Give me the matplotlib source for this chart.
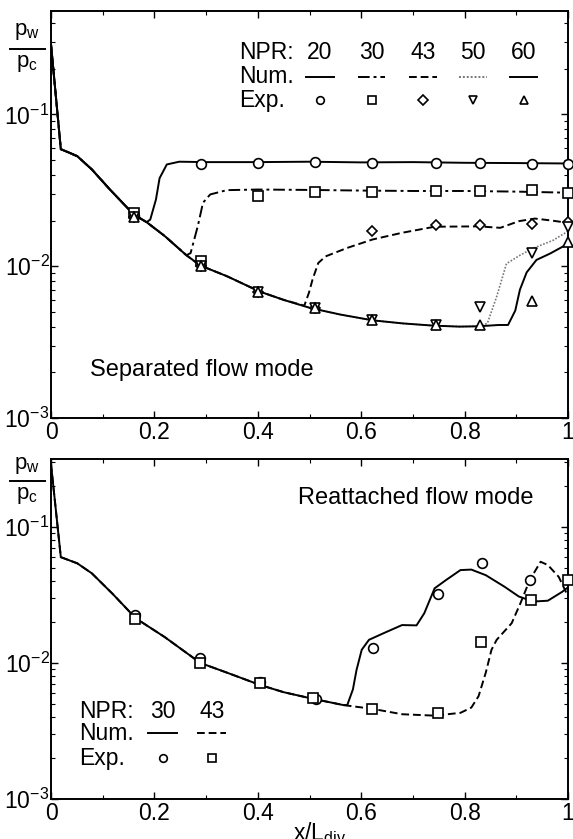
import matplotlib
matplotlib.use("Agg")
import matplotlib.pyplot as plt
from matplotlib.lines import Line2D
from matplotlib.ticker import LogLocator, FixedLocator, NullFormatter, MultipleLocator

plt.rcParams['font.family'] = ['Liberation Sans', 'DejaVu Sans']
plt.rcParams['mathtext.fontset'] = 'custom'
plt.rcParams['mathtext.rm'] = 'Liberation Sans'
plt.rcParams['mathtext.it'] = 'Liberation Sans'
plt.rcParams['mathtext.bf'] = 'Liberation Sans'

# ---- top panel: separated flow mode ----
base_x = [0.0, 0.019, 0.035, 0.051, 0.079, 0.114, 0.16, 0.185, 0.22, 0.262, 0.289,
          0.34, 0.404, 0.45, 0.502, 0.56, 0.622, 0.68, 0.739, 0.79, 0.827, 0.866, 0.884]
base_y = [0.29, 0.059, 0.056, 0.053, 0.0434, 0.032, 0.0219, 0.0195, 0.0158, 0.0118, 0.0101,
          0.0086, 0.0068, 0.006, 0.0053, 0.0048, 0.0044, 0.0042, 0.00406, 0.0040, 0.00402, 0.0041, 0.0041]

npr20_x = [0.192, 0.203, 0.21, 0.224, 0.248, 0.3, 0.4, 0.5, 0.6, 0.7, 0.8, 0.9, 1.0]
npr20_y = [0.0203, 0.0275, 0.038, 0.0468, 0.0488, 0.0485, 0.0485, 0.0488, 0.0483, 0.0485, 0.048, 0.0478, 0.0475]
npr30_x = [0.27, 0.284, 0.294, 0.308, 0.34, 0.4, 0.5, 0.6, 0.7, 0.8, 0.9, 1.0]
npr30_y = [0.0122, 0.0184, 0.0262, 0.0297, 0.0317, 0.032, 0.0318, 0.0315, 0.0313, 0.0313, 0.031, 0.0305]
npr43_x = [0.49, 0.499, 0.506, 0.517, 0.531, 0.573, 0.622, 0.679, 0.742, 0.827, 0.869, 0.905, 0.936, 0.968, 1.0]
npr43_y = [0.0055, 0.0067, 0.0082, 0.0105, 0.0116, 0.0132, 0.015, 0.0166, 0.0182, 0.0183, 0.0179, 0.0198, 0.0206, 0.02, 0.0193]
npr50_x = [0.844, 0.862, 0.881, 0.907, 0.932, 0.971, 1.0]
npr50_y = [0.0042, 0.0063, 0.0104, 0.0118, 0.0131, 0.0148, 0.017]
npr60_x = [0.898, 0.907, 0.92, 0.939, 0.965, 0.994, 1.0]
npr60_y = [0.0051, 0.0070, 0.0091, 0.011, 0.0121, 0.0137, 0.014]

exp_x = [0.16, 0.29, 0.40, 0.51, 0.62, 0.745, 0.83, 0.93, 1.0]
exp20 = [0.0215, 0.0468, 0.048, 0.0485, 0.048, 0.048, 0.0475, 0.0468, 0.0468]
exp30 = [0.0225, 0.0108, 0.029, 0.031, 0.031, 0.0313, 0.0313, 0.0317, 0.0305]
exp43 = [0.021, 0.0100, 0.0068, 0.0053, 0.017, 0.0186, 0.0188, 0.019, 0.0195]
exp50 = [0.021, 0.0100, 0.0068, 0.0053, 0.0044, 0.0041, 0.0054, 0.0122, 0.018]
exp60 = [0.021, 0.0100, 0.0068, 0.0053, 0.0044, 0.0041, 0.0041, 0.0059, 0.0145]

# ---- bottom panel: reattached flow mode ----
base2_x = [0.0, 0.019, 0.051, 0.079, 0.12, 0.164, 0.22, 0.289, 0.34, 0.404, 0.45, 0.502, 0.566]
base2_y = [0.29, 0.060, 0.054, 0.0456, 0.032, 0.0213, 0.0155, 0.0100, 0.0085, 0.0069, 0.0061, 0.0055, 0.0049]
re30_x = [0.573, 0.584, 0.591, 0.601, 0.615, 0.644, 0.679, 0.707, 0.722, 0.742, 0.764, 0.792,
          0.813, 0.841, 0.877, 0.905, 0.933, 0.961, 0.989, 1.0]
re30_y = [0.0049, 0.0064, 0.0089, 0.0125, 0.0148, 0.0166, 0.019, 0.0189, 0.0232, 0.0354, 0.0407, 0.0482,
          0.0486, 0.0442, 0.0364, 0.0308, 0.0283, 0.0287, 0.0334, 0.036]
re43_x = [0.622, 0.679, 0.742, 0.792, 0.813, 0.827, 0.841, 0.852, 0.862, 0.891, 0.908, 0.926,
          0.947, 0.961, 0.982, 1.0]
re43_y = [0.0046, 0.0042, 0.0041, 0.0043, 0.0047, 0.0057, 0.0085, 0.0125, 0.0148, 0.0196, 0.0275, 0.0407,
          0.0555, 0.0525, 0.043, 0.031]

exp2_30_x = [0.162, 0.289, 0.404, 0.513, 0.622, 0.748, 0.834, 0.927]
exp2_30_y = [0.0226, 0.0109, 0.0073, 0.0054, 0.0129, 0.032, 0.054, 0.0407]
exp2_43_x = [0.162, 0.289, 0.404, 0.506, 0.621, 0.749, 0.831, 0.928, 1.0]
exp2_43_y = [0.021, 0.0100, 0.0071, 0.0055, 0.0046, 0.0043, 0.0143, 0.029, 0.0407]


def upto(xs, ys, xmax):
    return [x for x in xs if x <= xmax], [y for x, y in zip(xs, ys) if x <= xmax]


fig = plt.figure(figsize=(5.73, 8.39), dpi=100)
ax1 = fig.add_axes([51 / 573, 1 - 418 / 839, 517 / 573, 407 / 839])
ax2 = fig.add_axes([51 / 573, 1 - 799 / 839, 517 / 573, 340 / 839])

lw = 1.4
fs = 16.5
mk = dict(ls='none', mfc='white', mec='black', mew=1.2, ms=7, clip_on=False, zorder=5)
dashdot = (0, (6, 2, 1.5, 2))
dashed = (0, (4, 2))

# top panel lines
bx, by = upto(base_x, base_y, 0.185)
ax1.plot(bx + npr20_x, by + npr20_y, color='black', lw=lw)
bx, by = upto(base_x, base_y, 0.262)
ax1.plot(bx + npr30_x, by + npr30_y, color='black', lw=lw, ls=dashdot)
bx, by = upto(base_x, base_y, 0.45)
ax1.plot(bx + npr43_x, by + npr43_y, color='black', lw=lw, ls=dashed)
bx, by = upto(base_x, base_y, 0.827)
ax1.plot(bx + npr50_x, by + npr50_y, color='#777777', lw=1.2, ls=(0, (1, 1)))
ax1.plot(base_x + npr60_x, base_y + npr60_y, color='black', lw=lw)

ax1.plot(exp_x, exp20, marker='o', **mk)
ax1.plot(exp_x, exp30, marker='s', **dict(mk, ms=6.5))
ax1.plot(exp_x, exp43, marker='D', **dict(mk, ms=5.5))
ax1.plot(exp_x, exp50, marker='v', **dict(mk, ms=7.5))
ax1.plot(exp_x, exp60, marker='^', **dict(mk, ms=7.5))

# top legend table
cols = [0.52, 0.62, 0.72, 0.816, 0.914]
labels = ['20', '30', '43', '50', '60']
styles = [('-', 'black'), (dashdot, 'black'), (dashed, 'black'),
          ((0, (1, 1)), '#777777'), ('-', 'black')]
marks = ['o', 's', 'D', 'v', '^']
ax1.text(0.363, 0.897, 'NPR:', transform=ax1.transAxes, fontsize=fs, va='center')
ax1.text(0.363, 0.838, 'Num.', transform=ax1.transAxes, fontsize=fs, va='center')
ax1.text(0.363, 0.781, 'Exp.', transform=ax1.transAxes, fontsize=fs, va='center')
for c, lab, (ls, col), m in zip(cols, labels, styles, marks):
    ax1.text(c, 0.897, lab, transform=ax1.transAxes, fontsize=fs, va='center', ha='center')
    ax1.plot([c - 0.027, c + 0.027], [0.838, 0.838], transform=ax1.transAxes,
             color=col, ls=ls, lw=lw)
    ax1.plot([c], [0.781], transform=ax1.transAxes, marker=m, ls='none', mfc='white',
             mec='black', mew=1.2, ms=5.5)
ax1.text(0.075, 0.118, 'Separated flow mode', transform=ax1.transAxes, fontsize=17, va='center')

# bottom panel lines
bx, by = upto(base2_x, base2_y, 0.566)
ax2.plot(bx + re30_x, by + re30_y, color='black', lw=lw)
ax2.plot(base2_x + re43_x, base2_y + re43_y, color='black', lw=lw, ls=dashed)
ax2.plot(exp2_30_x, exp2_30_y, marker='o', **mk)
ax2.plot(exp2_43_x, exp2_43_y, marker='s', **dict(mk, ms=6.5))

ax2.text(0.054, 0.256, 'NPR:', transform=ax2.transAxes, fontsize=fs, va='center')
ax2.text(0.054, 0.194, 'Num.', transform=ax2.transAxes, fontsize=fs, va='center')
ax2.text(0.054, 0.12, 'Exp.', transform=ax2.transAxes, fontsize=fs, va='center')
for c, lab, ls, m in zip([0.216, 0.311], ['30', '43'], ['-', dashed], ['o', 's']):
    ax2.text(c, 0.256, lab, transform=ax2.transAxes, fontsize=fs, va='center', ha='center')
    ax2.plot([c - 0.028, c + 0.028], [0.194, 0.194], transform=ax2.transAxes,
             color='black', ls=ls, lw=lw)
    ax2.plot([c], [0.12], transform=ax2.transAxes, marker=m, ls='none', mfc='white',
             mec='black', mew=1.2, ms=5.5)
ax2.text(0.478, 0.885, 'Reattached flow mode', transform=ax2.transAxes, fontsize=17, va='center')

for ax, ytop in [(ax1, 0.48), (ax2, 0.316)]:
    ax.set_yscale('log')
    ax.set_xlim(0, 1)
    ax.set_ylim(1e-3, ytop)
    ax.xaxis.set_major_locator(FixedLocator([0, 0.2, 0.4, 0.6, 0.8, 1.0]))
    ax.xaxis.set_minor_locator(MultipleLocator(0.1))
    ax.set_xticklabels(['0', '0.2', '0.4', '0.6', '0.8', '1'])
    ax.yaxis.set_major_locator(FixedLocator([1e-3, 1e-2, 1e-1]))
    ax.set_yticklabels([r'$10^{-3}$', r'$10^{-2}$', r'$10^{-1}$'])
    ax.yaxis.set_minor_locator(LogLocator(base=10, subs=range(2, 10)))
    ax.yaxis.set_minor_formatter(NullFormatter())
    ax.tick_params(which='both', direction='in', top=True, right=True, labelsize=fs)
    ax.tick_params(which='major', length=5, width=1)
    ax.tick_params(which='minor', length=3, width=0.8)
    ax.tick_params(axis='y', pad=1)
    ax.tick_params(axis='x', pad=2)
    for s in ax.spines.values():
        s.set_linewidth(1.4)

# p_w / p_c fraction labels, drawn as two texts and a bar
for num_y, bar_y, den_y in [(31, 49, 64), (465, 481, 496)]:
    fig.text(27 / 573, 1 - num_y / 839, r'p$_\mathregular{w}$', fontsize=16, ha='center', va='center')
    fig.text(27 / 573, 1 - den_y / 839, r'p$_\mathregular{c}$', fontsize=16, ha='center', va='center')
    fig.add_artist(Line2D([10 / 573, 45 / 573], [1 - bar_y / 839, 1 - bar_y / 839],
                          color='black', lw=1.4, transform=fig.transFigure))

ax2.set_xlabel(r'x/L$_{div}$', fontsize=fs)
ax2.xaxis.set_label_coords(0.52, -0.062)

fig.savefig('out.png', dpi=100)
